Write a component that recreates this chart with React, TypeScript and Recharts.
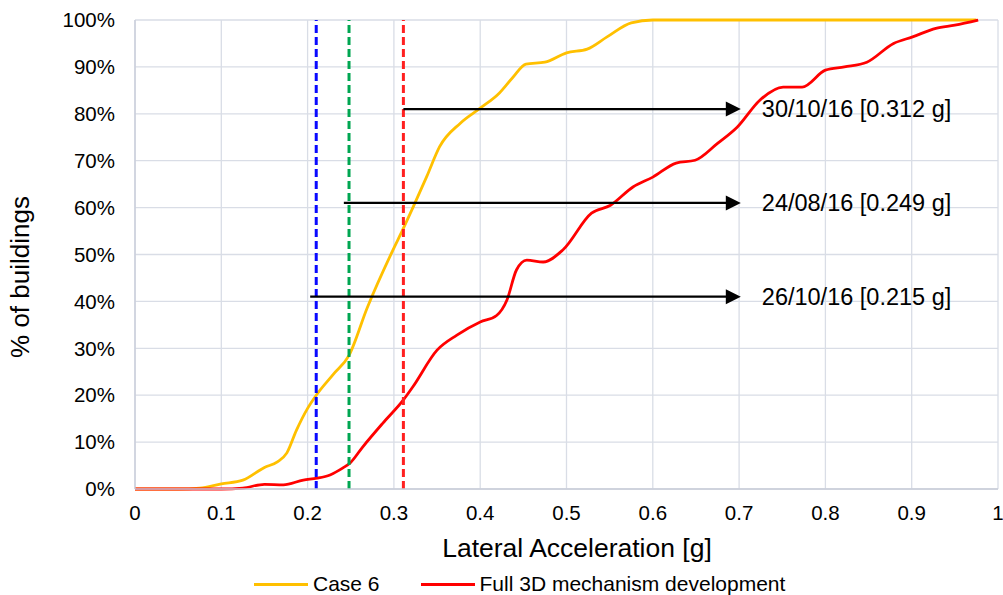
import { Label, Line, LineChart, ReferenceLine, XAxis, YAxis, CartesianGrid } from "recharts";

// Case 6 curve (lateral acceleration [g] -> % of buildings)
const case6Acc = [0, 0.05, 0.075, 0.1, 0.125, 0.15, 0.165, 0.176, 0.187, 0.2, 0.21, 0.23, 0.248, 0.269, 0.299, 0.31, 0.322, 0.338, 0.353, 0.377, 0.4, 0.422, 0.438, 0.453, 0.475, 0.5, 0.524, 0.547, 0.575, 0.6, 0.975];
const case6Pct = [0, 0, 0.2, 1.1, 1.9, 4.6, 5.8, 7.7, 12.5, 17.2, 20, 24.5, 28.5, 38.6, 51, 55.2, 60, 66.6, 73, 78, 81.2, 84.4, 87.8, 90.6, 91, 93, 93.8, 96.4, 99.4, 100, 100];

// Full 3D mechanism development curve
const fullAcc = [0, 0.1, 0.125, 0.15, 0.172, 0.195, 0.211, 0.226, 0.241, 0.249, 0.264, 0.287, 0.311, 0.322, 0.35, 0.373, 0.4, 0.419, 0.431, 0.442, 0.454, 0.473, 0.496, 0.529, 0.551, 0.577, 0.6, 0.627, 0.649, 0.675, 0.698, 0.724, 0.751, 0.773, 0.8, 0.822, 0.848, 0.879, 0.901, 0.928, 0.95, 0.977];
const fullPct = [0, 0, 0.2, 1, 0.9, 1.9, 2.3, 3, 4.5, 5.5, 9, 14, 19, 21.8, 29.6, 32.8, 35.6, 37, 40.3, 46.7, 48.8, 48.4, 51, 58.8, 60.5, 64.4, 66.5, 69.5, 70.1, 73.7, 77.2, 82.9, 85.7, 85.7, 89.3, 90, 91, 95, 96.4, 98.2, 98.9, 100];

// earthquake thresholds (vertical dashed lines)
const quakeAcc = [0.21, 0.248, 0.311];
const quakeColors = ["#0a0aff", "#00a651", "#ff2020"];

// arrows: start acceleration, end acceleration, level (%), text
const arrowFrom = [0.203, 0.242, 0.311];
const arrowTo = [0.702, 0.702, 0.702];
const arrowLevel = [41, 61, 81];
const arrowText = ["26/10/16 [0.215 g]", "24/08/16 [0.249 g]", "30/10/16 [0.312 g]"];

const xTicks = [0, 0.1, 0.2, 0.3, 0.4, 0.5, 0.6, 0.7, 0.8, 0.9, 1];
const yTicks = [0, 10, 20, 30, 40, 50, 60, 70, 80, 90, 100];

const series = [
  { name: "Case 6", color: "#ffc000" },
  { name: "Full 3D mechanism development", color: "#ff0000" },
];

const case6Data = case6Acc.map((x, i) => ({ x, y: case6Pct[i] }));
const fullData = fullAcc.map((x, i) => ({ x, y: fullPct[i] }));

const FONT = "'Liberation Sans', Arial, sans-serif";
const GRID = "#d9dde6";

function arrowShape(text: string) {
  return (p: any) => {
    const { x1, y1, x2 } = p;
    return (
      <g>
        <line x1={x1} y1={y1} x2={x2 - 6} y2={y1} stroke="#000" strokeWidth={2.2} />
        <polygon points={`${x2 - 15},${y1 - 7.5} ${x2},${y1} ${x2 - 15},${y1 + 7.5}`} fill="#000" />
        <text x={x2 + 21} y={y1 + 8} fontSize={23.5} fontFamily={FONT} fill="#000">
          {text}
        </text>
      </g>
    );
  };
}

export default function App() {
  return (
    <div style={{ position: "absolute", left: 0, top: 0, width: 1003, height: 595, fontFamily: FONT }}>
      <LineChart width={1003} height={595} margin={{ top: 20, right: 5, left: 0, bottom: 36 }}>
        <CartesianGrid stroke={GRID} strokeWidth={1.3} />
        <XAxis
          type="number"
          dataKey="x"
          domain={[0, 1]}
          ticks={xTicks}
          height={70}
          tickLine={false}
          tickSize={0}
          tickMargin={16}
          axisLine={{ stroke: "#c8cdd9", strokeWidth: 1.3 }}
          tick={{ fontSize: 20.5, fill: "#000", fontFamily: FONT }}
          tickFormatter={(v) => String(v)}
        >
          <Label
            content={() => (
              <text x={577} y={557} textAnchor="middle" fontSize={26.5} fontFamily={FONT} fill="#000">
                Lateral Acceleration [g]
              </text>
            )}
          />
        </XAxis>
        <YAxis
          type="number"
          domain={[0, 100]}
          ticks={yTicks}
          width={135}
          tickLine={false}
          tickSize={0}
          tickMargin={20}
          axisLine={{ stroke: "#c8cdd9", strokeWidth: 1.3 }}
          tick={{ fontSize: 20.5, fill: "#000", fontFamily: FONT }}
          tickFormatter={(v) => `${v}%`}
        >
          <Label
            content={() => (
              <text
                x={20}
                y={277}
                transform="rotate(-90 20 277)"
                textAnchor="middle"
                dominantBaseline="central"
                fontSize={26}
                fontFamily={FONT}
                fill="#000"
              >
                % of buildings
              </text>
            )}
          />
        </YAxis>
        <Line
          data={case6Data}
          dataKey="y"
          name={series[0].name}
          type="monotone"
          stroke={series[0].color}
          strokeWidth={2.8}
          dot={false}
          isAnimationActive={false}
        />
        <Line
          data={fullData}
          dataKey="y"
          name={series[1].name}
          type="monotone"
          stroke={series[1].color}
          strokeWidth={2.8}
          dot={false}
          isAnimationActive={false}
        />
        {quakeAcc.map((a, i) => (
          <ReferenceLine key={`q${i}`} x={a} stroke={quakeColors[i]} strokeWidth={3} strokeDasharray="8 4" />
        ))}
        {arrowLevel.map((lvl, i) => (
          <ReferenceLine
            key={`a${i}`}
            segment={[
              { x: arrowFrom[i], y: lvl },
              { x: arrowTo[i], y: lvl },
            ]}
            shape={arrowShape(arrowText[i])}
          />
        ))}
      </LineChart>
      <div
        style={{
          position: "absolute",
          left: 254,
          top: 572,
          display: "flex",
          alignItems: "center",
          fontSize: 21,
          color: "#000",
          lineHeight: "24px",
        }}
      >
        {series.map((s, i) => (
          <div key={s.name} style={{ display: "flex", alignItems: "center", marginRight: i === 0 ? 41 : 0 }}>
            <span style={{ display: "inline-block", width: 54, height: 3, background: s.color, marginRight: 5 }} />
            <span>{s.name}</span>
          </div>
        ))}
      </div>
    </div>
  );
}
